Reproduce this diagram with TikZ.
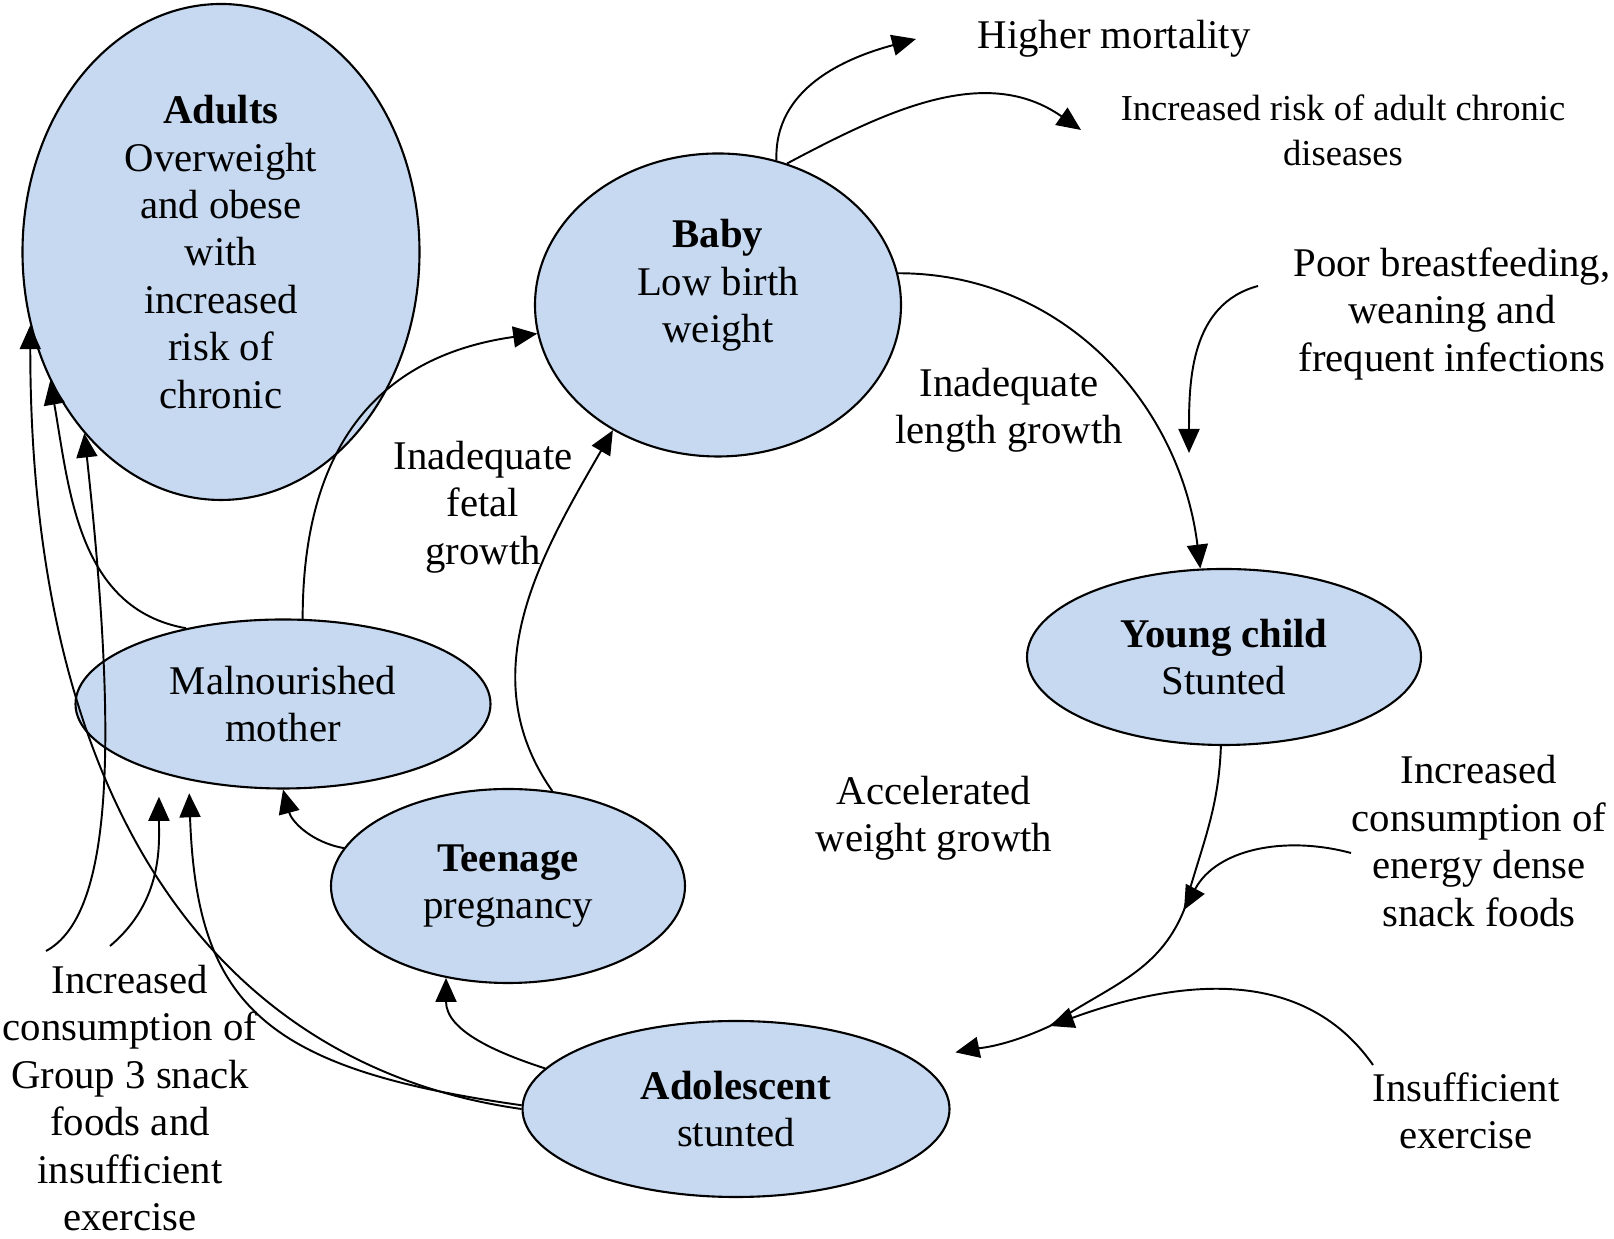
\documentclass[tikz,border=0pt]{standalone}
\usepackage{fontspec}
\setmainfont{Liberation Serif}
\usetikzlibrary{shapes.geometric,arrows.meta}
\definecolor{stagefill}{RGB}{198,217,240}

\begin{document}
\begin{tikzpicture}[
  every node/.style={
    font=\fontsize{11.6}{13.5}\selectfont,
    align=center
  },
  stage/.style={
    draw,
    ellipse,
    fill=stagefill,
    inner sep=0pt,
    line width=0.6pt
  },
  arr/.style={-{Triangle[length=2.4mm,width=2.1mm]}, line width=0.55pt}
]
  \useasboundingbox (0,0) rectangle (16.14,12.39);

  \node[stage, minimum width=3.97cm, minimum height=4.96cm] (A) at (2.21,9.87) {\textbf{Adults}\\Overweight\\and obese\\with\\increased\\risk of\\chronic};
  \node[stage, minimum width=3.66cm, minimum height=3.03cm] (B) at (7.18,9.34) {\textbf{Baby}\\Low birth\\weight\\\mbox{}};
  \node[stage, minimum width=3.94cm, minimum height=1.76cm] (C) at (12.24,5.82) {\textbf{Young child}\\Stunted};
  \node[stage, minimum width=4.15cm, minimum height=1.69cm] (M) at (2.83,5.35) {Malnourished\\mother};
  \node[stage, minimum width=3.54cm, minimum height=1.94cm] (T) at (5.08,3.53) {\textbf{Teenage}\\pregnancy};
  \node[stage, minimum width=4.27cm, minimum height=1.76cm] (D) at (7.36,1.30) {\textbf{Adolescent}\\stunted};

  \node (hm) at (11.14,12.00) {Higher mortality};
  \node[font=\fontsize{10.4}{12.9}\selectfont] (rk) at (13.43,11.09) {Increased risk of adult chronic\\diseases};
  \node (pb) at (14.52,9.25) {Poor breastfeeding,\\weaning and\\frequent infections};
  \node (lg) at (10.09,8.29) {Inadequate\\length growth};
  \node (fg) at (4.83,7.32) {Inadequate\\fetal\\growth};
  \node (wg) at (9.34,4.21) {Accelerated\\weight growth};
  \node (ec) at (14.79,3.98) {Increased\\consumption of\\energy dense\\snack foods};
  \node (ie) at (14.66,1.28) {Insufficient\\exercise};
  \node (gs) at (1.30,1.41) {Increased\\consumption of\\Group 3 snack\\foods and\\insufficient\\exercise};

  \coordinate (hmT) at (9.16,12.00);
  \coordinate (rkT) at (10.81,11.09);
  \coordinate (pbS) at (12.58,9.53);
  \coordinate (pbT) at (11.89,7.86);
  \coordinate (ecS) at (13.51,3.86);
  \coordinate (m1)  at (11.84,3.29);
  \coordinate (ieS) at (13.73,1.74);
  \coordinate (m2)  at (10.50,2.13);
  \coordinate (gsA) at (0.46,2.88);
  \coordinate (gsM) at (1.10,2.93);

  \draw[arr] (B.68) to[out=92,in=195] (hmT);
  \draw[arr] (B.64) to[out=28,in=145] (rkT);
  \draw[arr] (B.10) to[out=0,in=97] (C.105);
  \draw[arr] (pbS) to[out=195,in=90] (pbT);
  \draw[arr, shorten >=4mm] (C.268) to[out=268,in=75] (m1) to[out=248,in=35] (m2) to[out=205,in=12] (D.15);
  \draw[arr] (ecS) to[out=165,in=62] (m1);
  \draw[arr] (ieS) to[out=125,in=20] (m2);
  \draw[arr] (D.168) to[out=162,in=270] (T.236);
  \draw[arr] (T.167) to[out=170,in=285] (M.south);
  \draw[arr] (T.65) to[out=125,in=240] (B.230);
  \draw[arr] (M.77) to[out=90,in=188,looseness=1.15] (B.189);
  \draw[arr] (M.142) to[out=170,in=280] (A.217);
  \draw[arr] (D.180) to[out=172,in=270,out distance=2.98cm,in distance=4.94cm] (A.201);
  \draw[arr, shorten >=1.3mm] (D.179) to[out=172,in=272,out distance=2.6cm,in distance=2.25cm] (M.219);
  \draw[arr] (gsA) .. controls +(0.65,0.35) and +(0.35,-3.2) .. (A.233);
  \draw[arr, shorten >=2.4mm] (gsM) to[out=40,in=270] (M.209);
\end{tikzpicture}
\end{document}
